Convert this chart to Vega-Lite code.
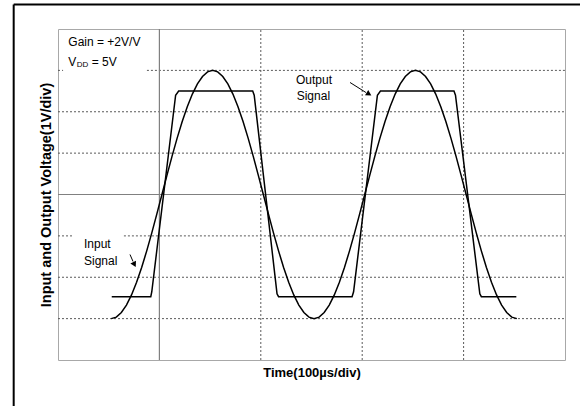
{
  "$schema": "https://vega.github.io/schema/vega-lite/v6.json",
  "width": 507,
  "height": 331,
  "autosize": {"type": "none"},
  "padding": {"left": 58, "top": 29, "right": 15, "bottom": 46},
  "background": "white",
  "config": {"view": {"stroke": "#a8a8a8", "strokeWidth": 1}, "font": "Liberation Sans"},
  "datasets": {
    "sine": [
      {"x": 0.525, "y": -3}, {"x": 0.575, "y": -2.963}, {"x": 0.625, "y": -2.853}, {"x": 0.675, "y": -2.673}, {"x": 0.725, "y": -2.427},
      {"x": 0.775, "y": -2.121}, {"x": 0.825, "y": -1.763}, {"x": 0.875, "y": -1.362}, {"x": 0.925, "y": -0.927}, {"x": 0.975, "y": -0.469},
      {"x": 1.025, "y": 0}, {"x": 1.075, "y": 0.469}, {"x": 1.125, "y": 0.927}, {"x": 1.175, "y": 1.362}, {"x": 1.225, "y": 1.763},
      {"x": 1.275, "y": 2.121}, {"x": 1.325, "y": 2.427}, {"x": 1.375, "y": 2.673}, {"x": 1.425, "y": 2.853}, {"x": 1.475, "y": 2.963},
      {"x": 1.525, "y": 3}, {"x": 1.575, "y": 2.963}, {"x": 1.625, "y": 2.853}, {"x": 1.675, "y": 2.673}, {"x": 1.725, "y": 2.427},
      {"x": 1.775, "y": 2.121}, {"x": 1.825, "y": 1.763}, {"x": 1.875, "y": 1.362}, {"x": 1.925, "y": 0.927}, {"x": 1.975, "y": 0.469},
      {"x": 2.025, "y": 0}, {"x": 2.075, "y": -0.469}, {"x": 2.125, "y": -0.927}, {"x": 2.175, "y": -1.362}, {"x": 2.225, "y": -1.763},
      {"x": 2.275, "y": -2.121}, {"x": 2.325, "y": -2.427}, {"x": 2.375, "y": -2.673}, {"x": 2.425, "y": -2.853}, {"x": 2.475, "y": -2.963},
      {"x": 2.525, "y": -3}, {"x": 2.575, "y": -2.963}, {"x": 2.625, "y": -2.853}, {"x": 2.675, "y": -2.673}, {"x": 2.725, "y": -2.427},
      {"x": 2.775, "y": -2.121}, {"x": 2.825, "y": -1.763}, {"x": 2.875, "y": -1.362}, {"x": 2.925, "y": -0.927}, {"x": 2.975, "y": -0.469},
      {"x": 3.025, "y": 0}, {"x": 3.075, "y": 0.469}, {"x": 3.125, "y": 0.927}, {"x": 3.175, "y": 1.362}, {"x": 3.225, "y": 1.763},
      {"x": 3.275, "y": 2.121}, {"x": 3.325, "y": 2.427}, {"x": 3.375, "y": 2.673}, {"x": 3.425, "y": 2.853}, {"x": 3.475, "y": 2.963},
      {"x": 3.525, "y": 3}, {"x": 3.575, "y": 2.963}, {"x": 3.625, "y": 2.853}, {"x": 3.675, "y": 2.673}, {"x": 3.725, "y": 2.427},
      {"x": 3.775, "y": 2.121}, {"x": 3.825, "y": 1.763}, {"x": 3.875, "y": 1.362}, {"x": 3.925, "y": 0.927}, {"x": 3.975, "y": 0.469},
      {"x": 4.025, "y": 0}, {"x": 4.075, "y": -0.469}, {"x": 4.125, "y": -0.927}, {"x": 4.175, "y": -1.362}, {"x": 4.225, "y": -1.763},
      {"x": 4.275, "y": -2.121}, {"x": 4.325, "y": -2.427}, {"x": 4.375, "y": -2.673}, {"x": 4.425, "y": -2.853}, {"x": 4.475, "y": -2.963},
      {"x": 4.525, "y": -3}
    ],
    "square": [
      {"x": 0.53, "y": -2.47}, {"x": 0.915, "y": -2.47}, {"x": 0.925, "y": -2.35}, {"x": 1.16, "y": 2.4}, {"x": 1.19, "y": 2.5},
      {"x": 1.92, "y": 2.5}, {"x": 1.935, "y": 2.4}, {"x": 2.16, "y": -2.4}, {"x": 2.175, "y": -2.47}, {"x": 2.9, "y": -2.47},
      {"x": 2.915, "y": -2.35}, {"x": 3.15, "y": 2.4}, {"x": 3.18, "y": 2.5}, {"x": 3.905, "y": 2.5}, {"x": 3.92, "y": 2.4},
      {"x": 4.16, "y": -2.4}, {"x": 4.175, "y": -2.47}, {"x": 4.52, "y": -2.47}
    ],
    "grid": [
      {"x": 0, "x2": 0.05, "y": 3, "y2": 3}, {"x": 0.877, "x2": 5, "y": 3, "y2": 3},
      {"x": 0, "x2": 5, "y": 2, "y2": 2}, {"x": 0, "x2": 5, "y": 1, "y2": 1},
      {"x": 0, "x2": 0.14, "y": -1, "y2": -1}, {"x": 0.65, "x2": 5, "y": -1, "y2": -1},
      {"x": 0, "x2": 5, "y": -2, "y2": -2}, {"x": 0, "x2": 5, "y": -3, "y2": -3},
      {"x": 2, "x2": 2, "y": -4, "y2": 4}, {"x": 3, "x2": 3, "y": -4, "y2": 4}, {"x": 4, "x2": 4, "y": -4, "y2": 4}
    ],
    "zero": [
      {"x": 1, "x2": 1, "y": -4, "y2": 4}, {"x": 0, "x2": 5, "y": 0, "y2": 0}
    ],
    "frame": [
      {"x": -0.437, "x2": 5.3, "y": 4.592, "y2": 4.592}, {"x": -0.437, "x2": -0.437, "y": 4.592, "y2": -5.3}
    ],
    "arrows": [
      {"x": 2.88, "x2": 3.037, "y": 2.707, "y2": 2.465}, {"x": 0.71, "x2": 0.74, "y": -1.45, "y2": -1.619}
    ],
    "labels": [
      {"x": 0.102, "y": 3.686, "t": "Gain = +2V/V"},
      {"x": 0.1, "y": 3.2, "t": "V"},
      {"x": 0.332, "y": 3.2, "t": "= 5V"},
      {"x": 2.347, "y": 2.779, "t": "Output"},
      {"x": 2.354, "y": 2.388, "t": "Signal"},
      {"x": 0.256, "y": -1.2, "t": "Input"},
      {"x": 0.256, "y": -1.6, "t": "Signal"}
    ]
  },
  "encoding": {
    "x": {"field": "x", "type": "quantitative", "scale": {"domain": [0, 5], "nice": false, "zero": false},
      "axis": {"title": "Time(100µs/div)", "labels": false, "ticks": false, "domain": false, "grid": false,
        "titleFontSize": 13, "titleFontWeight": "bold", "titleFont": "Liberation Sans", "titleColor": "black", "titlePadding": 6}},
    "y": {"field": "y", "type": "quantitative", "scale": {"domain": [-4, 4], "nice": false, "zero": false},
      "axis": {"title": "Input and Output Voltage(1V/div)", "labels": false, "ticks": false, "domain": false, "grid": false,
        "titleFontSize": 14.5, "titleFontWeight": "bold", "titleFont": "Liberation Sans", "titleColor": "black", "titlePadding": 5}}
  },
  "layer": [
    {"data": {"name": "grid"}, "mark": {"type": "rule", "color": "#5a5a5a", "strokeWidth": 1, "strokeDash": [2, 2]},
      "encoding": {"x2": {"field": "x2"}, "y2": {"field": "y2"}}},
    {"data": {"name": "zero"}, "mark": {"type": "rule", "color": "#808080", "strokeWidth": 1.2},
      "encoding": {"x2": {"field": "x2"}, "y2": {"field": "y2"}}},
    {"data": {"name": "sine"}, "mark": {"type": "line", "color": "black", "strokeWidth": 1.5}},
    {"data": {"name": "square"}, "mark": {"type": "line", "color": "black", "strokeWidth": 1.5}},
    {"data": {"name": "arrows"}, "mark": {"type": "rule", "color": "black", "strokeWidth": 1},
      "encoding": {"x2": {"field": "x2"}, "y2": {"field": "y2"}}},
    {"data": {"values": [{"x": 3.067, "y": 2.429}]}, "mark": {"type": "point", "shape": "triangle-right", "filled": true, "color": "black", "size": 40, "angle": 31, "opacity": 1}},
    {"data": {"values": [{"x": 0.754, "y": -1.692}]}, "mark": {"type": "point", "shape": "triangle-right", "filled": true, "color": "black", "size": 40, "angle": 63, "opacity": 1}},
    {"data": {"name": "labels"}, "mark": {"type": "text", "align": "left", "baseline": "middle", "fontSize": 12, "color": "black", "font": "Liberation Sans"},
      "encoding": {"text": {"field": "t"}}},
    {"data": {"values": [{"x": 0.185, "y": 3.12, "t": "DD"}]}, "mark": {"type": "text", "align": "left", "baseline": "middle", "fontSize": 8, "color": "black", "font": "Liberation Sans"},
      "encoding": {"text": {"field": "t"}}},
    {"data": {"name": "frame"}, "mark": {"type": "rule", "color": "black", "strokeWidth": 2},
      "encoding": {"x2": {"field": "x2"}, "y2": {"field": "y2"}}}
  ]
}
